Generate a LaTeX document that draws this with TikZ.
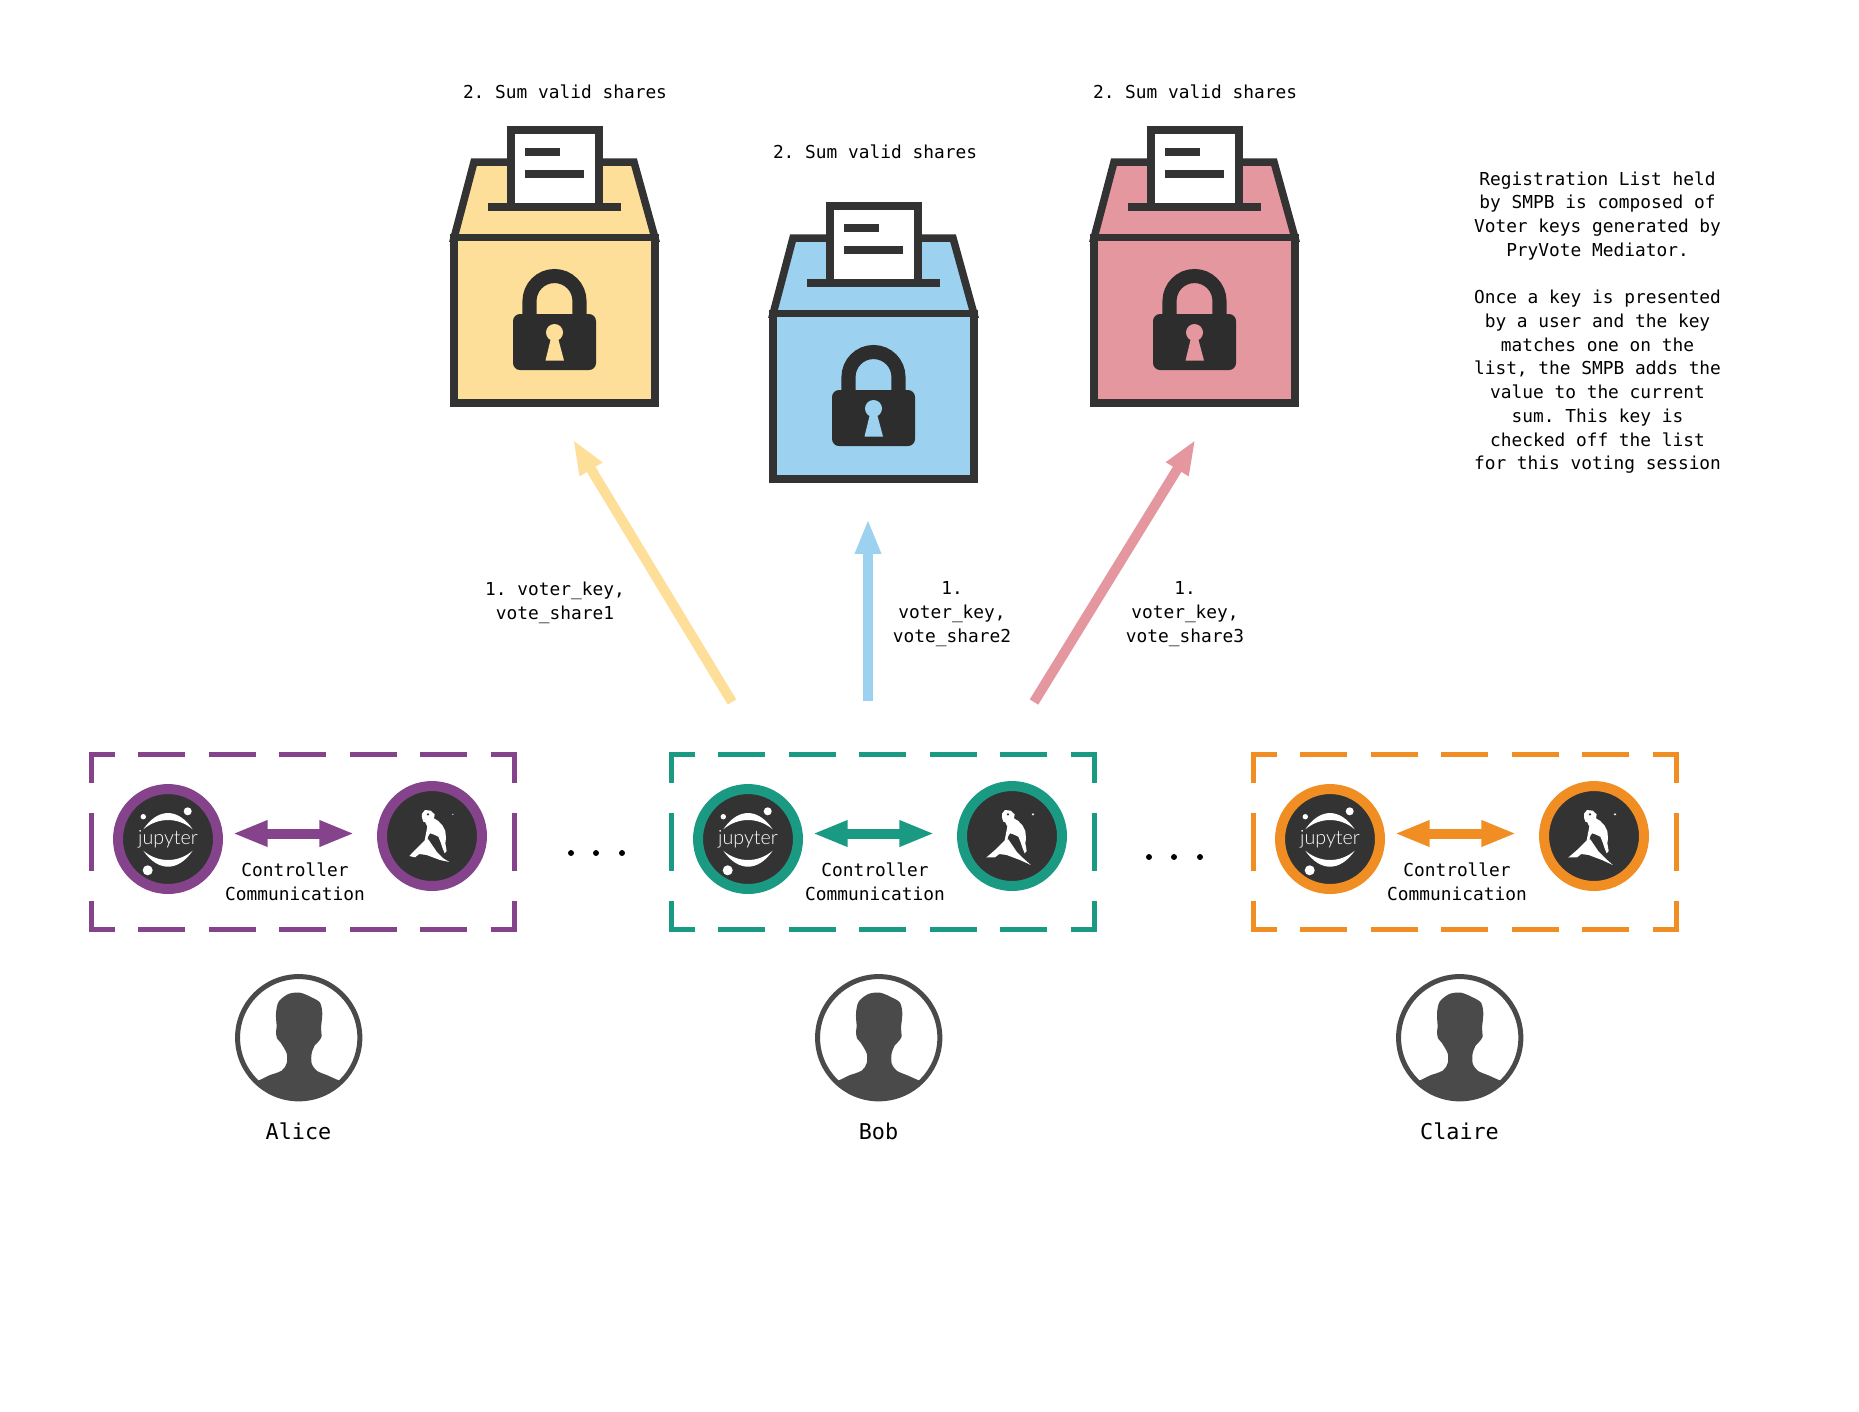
\documentclass[tikz,border=0pt]{standalone}
\usepackage{fontspec}
\setmainfont{DejaVu Sans Mono}
\newfontfamily\jupyterfont{Lato}[UprightFont=* Light]
\usepackage{tikz}
\usetikzlibrary{arrows.meta}
\frenchspacing
\definecolor{darkline}{HTML}{333333}
\definecolor{lockdark}{HTML}{2D2D2D}
\definecolor{persongray}{HTML}{4A4A4A}
\definecolor{votegold}{HTML}{FDDF99}
\definecolor{voteblue}{HTML}{9CD2EF}
\definecolor{votered}{HTML}{E4979E}
\definecolor{alicepurple}{HTML}{84438A}
\definecolor{bobteal}{HTML}{1A9A82}
\definecolor{claireorange}{HTML}{F08E23}

% ballot box: name, x shift, y shift, fill
\newcommand{\ballotbox}[4]{
    \begin{scope}[shift={(#2,#3)}]
        \filldraw [boxline, fill=#4] (454,238) -- (474,162) -- (634,162) -- (655,238) -- cycle;
        \filldraw [boxline, fill=#4] (454,237.5) rectangle (655,403);
        \filldraw [boxline, fill=white] (511,130) rectangle (599,207);
        \draw [boxline] (488,207) -- (621,207);
        \fill [darkline] (525,148) rectangle (560,156);
        \fill [darkline] (525,170) rectangle (584,178);
        \draw [lockdark, line width=8pt] (529.5,320) -- (529.5,301) arc (180:360:25) -- (579.5,320);
        \fill [lockdark, rounded corners=4pt] (513,314) rectangle (596,370);
        \fill [#4] (554.5,332.5) circle (8.5);
        \fill [#4] (551,338) -- (558,338) -- (564,360.5) -- (545.5,360.5) -- cycle;
    \end{scope}
}

% one user: name, x shift, colour, speck size, extra rock
\newcommand{\usergroup}[5]{
    \begin{scope}[shift={(#2,0)}]
        \draw [groupdashh, #3] (89,754.5) -- (517,754.5);
        \draw [groupdashh, #3] (89,929.5) -- (517,929.5);
        \draw [groupdashv, #3] (91.5,752) -- (91.5,932);
        \draw [groupdashv, #3] (514.5,752) -- (514.5,932);
        \node [ring, draw=#3] (#1jupyter) at (168,839) {};
        \fill [white] (143.3,829.3) .. controls (158,807.6) and (178,807.6) .. (192.7,829.3)
            .. controls (178,816.9) and (158,816.9) .. cycle;
        \fill [white] (143.3,850.7) .. controls (158,872) and (178,872) .. (192.7,850.7)
            .. controls (178,863.1) and (158,863.1) .. cycle;
        \fill [white] (187.7,811.3) circle (4);
        \fill [white] (143.3,816.7) circle (2.7);
        \fill [white] (147.7,870.3) circle (5);
        \node [font=\jupyterfont\fontsize{11.2}{13}\selectfont, text=white, inner sep=0pt] (#1logo) at (168,839.5) {jupyter};
        \node [ring, draw=#3] (#1ram) at (432,836) {};
        \begin{scope}[shift={(360,780)}, scale=0.3333]
            \fill [white] (186,101) -- (195,90) -- (212,92) -- (224,103) -- (222,115) -- (235,123) -- (248,137)
                -- (256,153) -- (258,175) -- (256,190) -- (260,213) -- (254,220) -- (248,205) -- (242,187)
                -- (235,170) -- (220,163) -- (210,160) -- (204,170) -- (202,183) -- (194,181) -- (198,160)
                -- (202,140) -- (196,127) -- (190,125) -- (186,113) -- cycle;
            \fill [darkline] (204,103) circle (4);
            \fill [white] (148-#5,228+#5/2) -- (165,210) -- (195,180) -- (205,178) -- (230,215) -- (250,235)
                -- (268+#5/2,246+#5) -- (240,240) -- (200,225) -- (178,222) -- (165,232) -- cycle;
            \fill [white] (279,103-#4) -- (280.5,101.5) -- (279+#4,103) -- (280.5,104.5) -- (279,103+#4)
                -- (277.5,104.5) -- (279-#4,103) -- (277.5,101.5) -- cycle;
        \end{scope}
        \coordinate (#1left) at (232.6,833.5);
        \coordinate (#1right) at (354.4,833.5);
        \draw [talkarrow, #3] (#1left) -- (#1right);
        \node [textlabel] (#1talk) at (295,882) {Controller\\Communication};
    \end{scope}
}

% one person: name, x shift, text on the label
\newcommand{\useravatar}[3]{
    \begin{scope}[shift={(#2,0)}]
        \node [ring, draw=persongray, line width=2.85pt, minimum size=69.6pt, fill=white] (#1ring) at (298.7,1037.7) {};
        \begin{scope}
            \clip (298.7,1037.7) circle (62);
            \begin{scope}[shift={(220,970)}, scale=0.3333]
                \fill [persongray] (40,420) -- (40,350) -- (115,332) -- plot [smooth] coordinates {(150,315) (185,302) (200,280) (200,250)
                    (182,218) (171,205) (168,185) (170,170) (168,130) (176,95) (205,72) (240,68) (275,82) (300,98) (307,130)
                    (303,175) (305,200) (295,215) (285,225) (275,250) (275,280) (290,302) (320,315)}
                    -- (358,332) -- (430,350) -- (430,420) -- cycle;
            \end{scope}
        \end{scope}
        \node [namelabel] (#1name) at (298.5,1131) {#3};
    \end{scope}
}

\begin{document}
\begin{tikzpicture}[x=0.02cm,y=-0.02cm]
    \tikzstyle{boxline}=[draw=darkline, line width=4.27pt, line join=miter]
    \tikzstyle{textlabel}=[font=\fontsize{10.15}{13.5}\selectfont, align=center, text=black, inner sep=0pt]
    \tikzstyle{namelabel}=[font=\fontsize{12.4}{15}\selectfont, text=black, inner sep=0pt]
    \tikzstyle{votearrow}=[line width=5.69pt, -{Triangle[length=19.9pt,width=13.7pt]}]
    \tikzstyle{talkarrow}=[line width=5.69pt, {Triangle[length=19.9pt,width=13.7pt]}-{Triangle[length=19.9pt,width=13.7pt]}]
    \tikzstyle{ring}=[circle, line width=5.69pt, fill=darkline, minimum size=56.9pt, inner sep=0pt, outer sep=0pt]
    \tikzstyle{groupdashh}=[line width=2.85pt, dash pattern=on 26.7pt off 13.4pt, dash phase=11.95pt]
    \tikzstyle{groupdashv}=[line width=2.85pt, dash pattern=on 32.6pt off 17.4pt, dash phase=15.1pt]
    \tikzstyle{dot}=[circle, fill=black, minimum size=3.4pt, inner sep=0pt, outer sep=0pt]
    \useasboundingbox (0,0) rectangle (1859,1411);

    \ballotbox{gold}{0}{0}{votegold}
    \ballotbox{blue}{319}{76}{voteblue}
    \ballotbox{red}{640}{0}{votered}

    \node [textlabel] (goldsum) at (565,92) {2. Sum valid shares};
    \node [textlabel] (bluesum) at (875,152) {2. Sum valid shares};
    \node [textlabel] (redsum) at (1195,92) {2. Sum valid shares};

    \coordinate (goldtail) at (732,702);
    \coordinate (goldtip) at (573,439.5);
    \coordinate (bluetail) at (868,701);
    \coordinate (bluetip) at (868,519);
    \coordinate (redtail) at (1034,702);
    \coordinate (redtip) at (1195.5,439.5);
    \draw [votearrow, votegold] (goldtail) -- (goldtip);
    \draw [votearrow, voteblue] (bluetail) -- (bluetip);
    \draw [votearrow, votered] (redtail) -- (redtip);

    \node [textlabel] (goldkey) at (555,602.5) {1. voter\_key,\\vote\_share1};
    \node [textlabel] (bluekey) at (952,614) {1.\\voter\_key,\\vote\_share2};
    \node [textlabel] (redkey) at (1185,614) {1.\\voter\_key,\\vote\_share3};

    \node [textlabel] (reglist) at (1597.5,322.5) {Registration List held\\by SMPB is composed of\\Voter keys generated by\\PryVote Mediator.\\[13.5pt]Once a key is presented\\by a user and the key\\matches one on the\\list, the SMPB adds the\\value to the current\\sum. This key is\\checked off the list\\for this voting session};

    \usergroup{alice}{0}{alicepurple}{1.5}{0}
    \usergroup{bob}{580}{bobteal}{4}{9}
    \usergroup{claire}{1162}{claireorange}{4}{9}

    \useravatar{alice}{0}{Alice}
    \useravatar{bob}{580}{Bob}
    \useravatar{claire}{1161}{Claire}

    \node [dot] (leftdota) at (571,853) {};
    \node [dot] (leftdotb) at (596,853) {};
    \node [dot] (leftdotc) at (622,853) {};
    \node [dot] (rightdota) at (1149,857) {};
    \node [dot] (rightdotb) at (1174,857) {};
    \node [dot] (rightdotc) at (1200,857) {};
\end{tikzpicture}
\end{document}
